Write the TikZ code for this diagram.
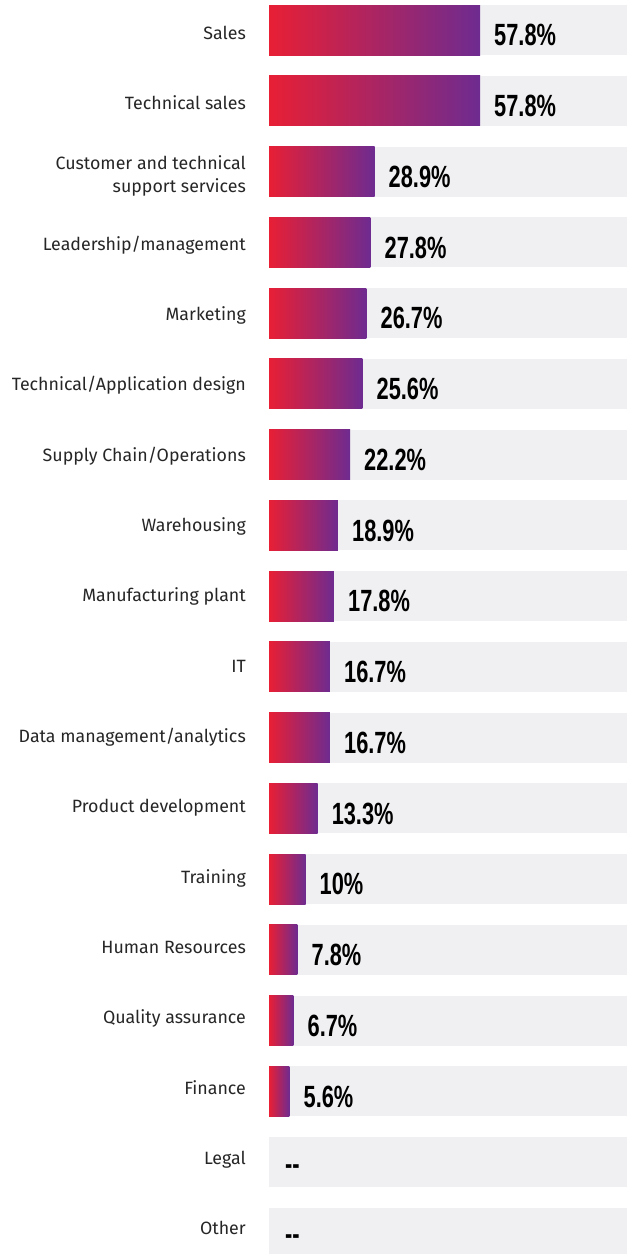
\documentclass[tikz,border=0pt]{standalone}
\usepackage{fontspec}
\setmainfont{Fira Sans}
\newfontfamily\pctfont[UprightFont=* Bold,FakeStretch=0.71]{Liberation Sans}
\definecolor{barred}{HTML}{E81F35}
\definecolor{barpurple}{HTML}{6E2B90}
\definecolor{bargray}{HTML}{F0F0F2}
\definecolor{labgray}{HTML}{262626}
\tikzset{
  lab/.style={anchor=base east,inner sep=0pt,text=labgray,font=\fontsize{17.8}{23}\selectfont},
  pct/.style={anchor=base west,inner sep=0pt,text=black,font=\pctfont\fontsize{30.7}{31}\selectfont},
  bgbar/.style={fill=bargray},
  valbar/.style={left color=barred,right color=barpurple}
}
\begin{document}
\begin{tikzpicture}[x=1pt,y=-1pt]
\useasboundingbox (0,0) rectangle (627,1254);
\begin{scope}
\clip (0,0) rectangle (627,1254);
\foreach \i/\lab/\v in {0/Sales/57.8,1/Technical sales/57.8,2/{}/28.9,3/{Leadership/management}/27.8,4/Marketing/26.7,5/{Technical/Application design}/25.6,6/{Supply Chain/Operations}/22.2,7/Warehousing/18.9,8/Manufacturing plant/17.8,9/IT/16.7,10/{Data management/analytics}/16.7,11/Product development/13.3,12/Training/10,13/Human Resources/7.8,14/Quality assurance/6.7,15/Finance/5.6}{
  \pgfmathsetmacro\top{5+70.76*\i}
  \pgfmathsetmacro\lb{39+70.35*\i}
  \pgfmathsetmacro\xe{269+3.6505*\v}
  \fill[bgbar] (269,\top) rectangle (627,\top+50);
  \shade[valbar] (269,\top) rectangle (\xe,\top+50);
  \node[lab] (l\i) at (246,\lb) {\lab};
  \node[pct] (p\i) at (\xe+14,\top+40.8) {\v\%};
}
\node[lab] (l2a) at (246,169) {Customer and technical};
\node[lab] (l2b) at (246,192) {support services};
\foreach \i/\lab in {16/Legal,17/Other}{
  \pgfmathsetmacro\top{5+70.76*\i}
  \pgfmathsetmacro\lb{39+70.35*\i}
  \fill[bgbar] (269,\top) rectangle (627,\top+50);
  \node[lab] (l\i) at (246,\lb) {\lab};
  \node[pct] (p\i) at (285,\top+37) {-{}-};
}
\end{scope}
\end{tikzpicture}
\end{document}
